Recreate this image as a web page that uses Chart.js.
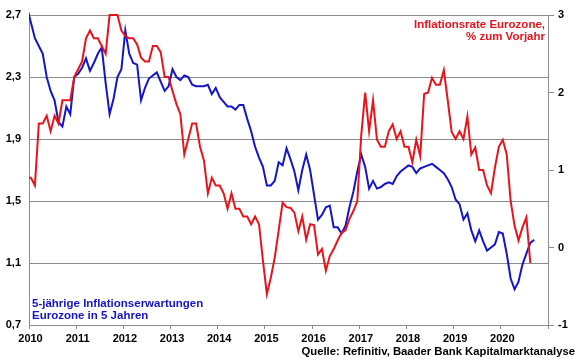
<!DOCTYPE html>
<html><head><meta charset="utf-8">
<script src="https://cdn.jsdelivr.net/npm/chart.js@4.4.0/dist/chart.umd.min.js"></script>
<style>html,body{margin:0;padding:0;background:#fff;}#wrap{width:580px;height:359px;position:relative;}</style>
</head><body><div id="wrap"><canvas id="c" width="580" height="359"></canvas></div>
<script>
// x positions: monthly values, first entry = Dec 2009, plotted mid-month
const startYear = 2010;
const yearTicks = [2010,2011,2012,2013,2014,2015,2016,2017,2018,2019,2020,2021];
const lastLabelledYear = 2020;
const leftTicks = [0.7,1.1,1.5,1.9,2.3,2.7];
const rightTicks = [-1,0,1,2,3];

// Inflationsrate Eurozone, % zum Vorjahr (right axis), Dec 2009 .. Aug 2020
const inflation = [0.9,
 0.9,0.8,1.6,1.6,1.7,1.5,1.7,1.6,1.9,1.9,1.9,2.2,
 2.3,2.4,2.7,2.8,2.7,2.7,2.6,2.5,3.0,3.0,3.0,2.8,
 2.73,2.7,2.7,2.62,2.45,2.4,2.4,2.6,2.6,2.52,2.2,2.2,
 2.02,1.85,1.72,1.2,1.4,1.6,1.6,1.3,1.12,0.7,0.9,0.8,
 0.8,0.7,0.5,0.7,0.5,0.5,0.4,0.4,0.3,0.4,0.3,-0.17,
 -0.6,-0.39,-0.13,0.22,0.58,0.52,0.51,0.45,0.21,0.40,0.10,0.30,
 0.29,-0.09,-0.02,-0.30,-0.11,-0.02,0.09,0.19,0.22,0.37,0.47,0.6,
 1.45,2.0,1.5,1.9,1.39,1.3,1.3,1.5,1.59,1.4,1.5,1.3,
 1.3,1.1,1.39,1.18,1.98,2.0,2.19,2.1,2.1,2.29,1.9,1.49,
 1.4,1.5,1.4,1.69,1.2,1.29,1.0,1.0,0.8,0.7,1.03,1.3,
 1.39,1.2,0.6,0.28,0.09,0.26,0.39,-0.2];

// 5-jaehrige Inflationserwartungen Eurozone in 5 Jahren (left axis), Dec 2009 .. Sep 2020
const expectations = [2.75,
 2.65,2.55,2.50,2.45,2.30,2.21,2.15,2.01,1.98,2.11,2.06,2.30,
 2.32,2.36,2.42,2.34,2.39,2.45,2.49,2.26,2.06,2.16,2.30,2.35,
 2.60,2.45,2.39,2.38,2.15,2.23,2.29,2.31,2.33,2.27,2.21,2.24,
 2.35,2.30,2.28,2.31,2.30,2.25,2.24,2.24,2.24,2.25,2.19,2.23,
 2.17,2.14,2.11,2.11,2.09,2.12,2.12,2.03,1.95,1.85,1.78,1.72,
 1.60,1.60,1.63,1.75,1.73,1.84,1.77,1.69,1.57,1.70,1.80,1.70,
 1.54,1.38,1.41,1.46,1.47,1.33,1.33,1.29,1.34,1.46,1.56,1.69,
 1.80,1.72,1.58,1.63,1.58,1.59,1.61,1.62,1.61,1.66,1.69,1.71,
 1.73,1.72,1.68,1.71,1.72,1.73,1.74,1.72,1.70,1.68,1.64,1.59,
 1.51,1.48,1.38,1.42,1.31,1.24,1.31,1.24,1.18,1.20,1.22,1.30,
 1.29,1.16,1.00,0.93,0.98,1.09,1.16,1.23,1.25];

const redTitle = ['Inflationsrate Eurozone,', '% zum Vorjahr'];
const blueTitle = ['5-jährige Inflationserwartungen', 'Eurozone in 5 Jahren'];
const sourceText = 'Quelle: Refinitiv, Baader Bank Kapitalmarktanalyse';

const RED = '#e8141c';
const BLUE = '#1414c8';
const GRID = '#8c8c8c';
const FONT = '"Liberation Sans", Arial, sans-serif';

function toPoints(arr){ return arr.map((v,i)=>({x: startYear + (i - 0.5)/12, y: v})); }

const textPlugin = {
  id:'texts',
  afterDraw(chart){
    const ctx = chart.ctx;
    ctx.save();
    ctx.textBaseline = 'alphabetic';
    ctx.font = 'bold 11.5px ' + FONT;
    ctx.fillStyle = RED; ctx.textAlign = 'right';
    ctx.fillText(redTitle[0], 545, 28.3);
    ctx.fillText(redTitle[1], 545, 40.3);
    ctx.fillStyle = BLUE; ctx.textAlign = 'left';
    ctx.fillText(blueTitle[0], 32, 306.7);
    ctx.fillText(blueTitle[1], 32, 319);
    ctx.font = 'bold 11.3px ' + FONT;
    ctx.fillStyle = '#000'; ctx.textAlign = 'right';
    ctx.fillText(sourceText, 575, 355);
    ctx.restore();
  }
};

const tickFont = {family: FONT, size: 11, weight: 'bold'};

new Chart(document.getElementById('c'), {
  type: 'line',
  data: { datasets: [
    {label: redTitle.join(' '), data: toPoints(inflation), yAxisID: 'y1', borderColor: RED, borderWidth: 2,
     pointRadius: 0, tension: 0, clip: {left: 0, top: 3, right: 3, bottom: 3}},
    {label: blueTitle.join(' '), data: toPoints(expectations), yAxisID: 'y', borderColor: BLUE, borderWidth: 2,
     pointRadius: 0, tension: 0, clip: {left: 0, top: 3, right: 3, bottom: 3}}
  ]},
  options: {
    responsive: false, animation: false, devicePixelRatio: 1,
    layout: {padding: {top: 15, left: 0, right: 0, bottom: 0}},
    plugins: {legend: {display: false}, tooltip: {enabled: false}},
    scales: {
      x: {type: 'linear', min: 2010, max: 2021,
        afterBuildTicks: s => { s.ticks = yearTicks.map(v => ({value: v})); },
        ticks: {callback: v => v <= lastLabelledYear ? String(v) : '', font: tickFont, color: '#000',
                padding: 3, maxRotation: 0, autoSkip: false, labelOffset: 1.5},
        grid: {drawOnChartArea: false, drawTicks: true, tickLength: 4, color: GRID},
        border: {display: true, color: GRID},
        afterFit: s => { s.height = 34; }
      },
      y: {position: 'left', min: 0.7, max: 2.7,
        afterBuildTicks: s => { s.ticks = leftTicks.map(v => ({value: v})); },
        ticks: {callback: v => Number(v).toFixed(1).replace('.', ','), font: tickFont, color: '#000', padding: 8},
        grid: {color: GRID, drawTicks: false},
        border: {display: true, color: GRID},
        afterFit: s => { s.width = 29; }
      },
      y1: {position: 'right', min: -1, max: 3,
        afterBuildTicks: s => { s.ticks = rightTicks.map(v => ({value: v})); },
        ticks: {callback: v => String(v), font: tickFont, color: '#000', padding: 4},
        grid: {drawOnChartArea: false, drawTicks: true, tickLength: 6, color: GRID},
        border: {display: true, color: GRID},
        afterFit: s => { s.width = 32; }
      }
    }
  },
  plugins: [textPlugin]
});
</script>
</body></html>
